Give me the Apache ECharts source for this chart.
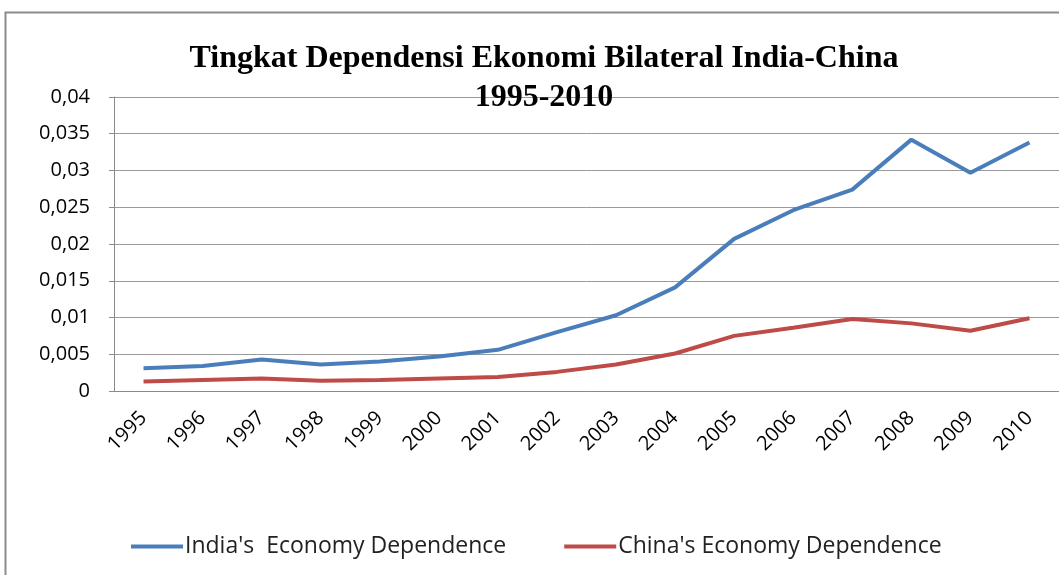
<!DOCTYPE html>
<html><head><meta charset="utf-8">
<script src="https://cdn.jsdelivr.net/npm/echarts@6/dist/echarts.min.js"></script>
<style>html,body{margin:0;padding:0;background:#fff}#c{width:1059px;height:575px}</style>
</head><body><div id="c"></div>
<script>
var years = ['1995','1996','1997','1998','1999','2000','2001','2002','2003','2004','2005','2006','2007','2008','2009','2010'];
var india = [0.0031,0.0034,0.0043,0.0036,0.0040,0.0047,0.0056,0.0080,0.0103,0.0141,0.0207,0.0246,0.0274,0.0342,0.0297,0.0338];
var china = [0.0013,0.0015,0.0017,0.0014,0.0015,0.0017,0.0019,0.0026,0.0036,0.0051,0.0075,0.0086,0.0098,0.0092,0.0082,0.0099];
var seriesNames = ["India's  Economy Dependence", "China's Economy Dependence"];
var chart = echarts.init(document.getElementById('c'));
var sans = "'Open Sans', 'Liberation Sans', sans-serif";
chart.setOption({
  animation: false,
  graphic: [{type:'rect', shape:{x:5.5,y:12.5,width:1100,height:700}, style:{fill:null, stroke:'#8c8c8c', lineWidth:2}, z:-1}],
  title: {
    text: 'Tingkat Dependensi Ekonomi Bilateral India-China\n1995-2010',
    left: 539, top: 34, textAlign: 'center',
    textStyle: {fontFamily: "'Liberation Serif', serif", fontWeight: 'bold', fontSize: 32, lineHeight: 39, color: '#000'}
  },
  legend: {
    bottom: 12, left: 126, itemWidth: 52, itemHeight: 4, itemGap: 58,
    icon: 'rect',
    textStyle: {fontFamily: sans, fontSize: 23, color: '#222', padding:[0,0,0,-3]},
    data: seriesNames
  },
  grid: {left: 114, top: 97, width: 952, height: 294},
  xAxis: {
    type: 'category', data: years, boundaryGap: true,
    axisLine: {lineStyle: {color: '#8a8a8a', width: 1}},
    axisTick: {show: false},
    axisLabel: {rotate: 45, fontFamily: sans, fontSize: 20, color: '#000', margin: 24}
  },
  yAxis: {
    type: 'value', min: 0, max: 0.04, interval: 0.005,
    axisLine: {show: true, lineStyle: {color: '#8a8a8a'}},
    axisTick: {show: true, inside: false, length: 5, lineStyle: {color: '#8a8a8a'}},
    splitLine: {lineStyle: {color: '#9a9a9a', width: 1}},
    axisLabel: {fontFamily: sans, fontSize: 20, color: '#000', margin: 24,
      formatter: function(v){ return String(+v.toFixed(4)).replace('.', ','); }}
  },
  series: [
    {name: seriesNames[0], type: 'line', data: india, symbol: 'none', lineStyle: {color: '#4a7ebb', width: 4}, itemStyle: {color: '#4a7ebb'}},
    {name: seriesNames[1], type: 'line', data: china, symbol: 'none', lineStyle: {color: '#be4b48', width: 4}, itemStyle: {color: '#be4b48'}}
  ]
});
</script></body></html>
